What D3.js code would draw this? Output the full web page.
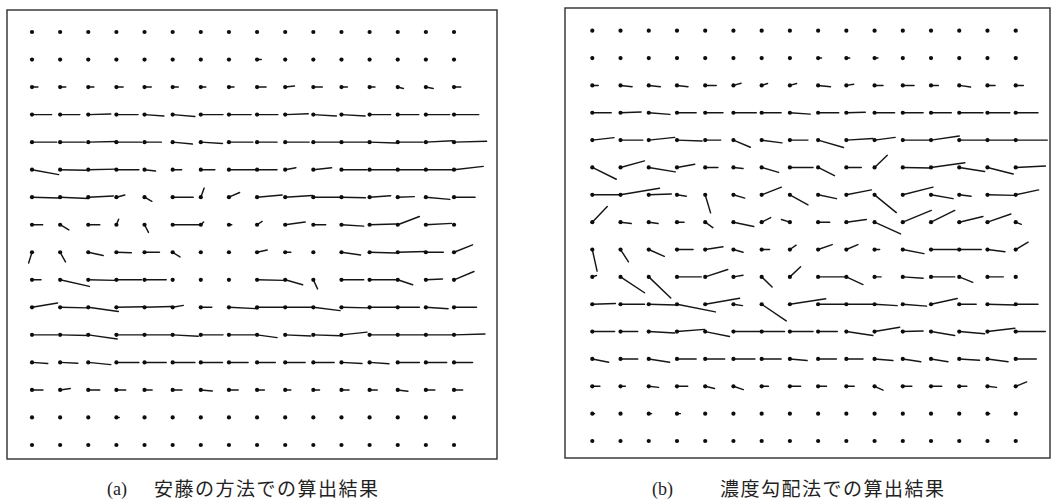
<!DOCTYPE html>
<html>
<head>
<meta charset="utf-8">
<script src="https://cdn.jsdelivr.net/npm/d3@7"></script>
<style>
  body { margin: 0; background: #fff; }
  svg { display: block; }
</style>
</head>
<body>
<div id="chart"></div>
<script>
// grid is 16 x 16, rows listed top to bottom
var cols = d3.range(16),
    rows = d3.range(16);

var captionA = "(a)",
    titleA = "安藤の方法での算出結果",
    captionB = "(b)",
    titleB = "濃度勾配法での算出結果";

// (a) horizontal / vertical displacement, in grid spacings
var uA = [
  [0,0,0,0,0,0,0,0,0,0,0,0,0,0,0,0],
  [0,0,0,0,0,0,0,0,0.15,0,0,0,0,0,0,0],
  [0.21,0.2,0.2,0.24,0.24,0.2,0.18,0.18,0.32,0.33,0.32,0.21,0.19,0.2,0.26,0.24],
  [0.7,0.7,0.8,0.77,0.69,0.79,0.79,0.79,0.74,0.82,0.82,0.84,0.75,0.75,0.85,0.88],
  [0.88,0.89,1.0,0.89,0.6,0.7,0.77,0.85,0.71,0.85,1.0,1.0,0.92,0.9,0.95,1.16],
  [0.95,0.92,1.0,0.8,0.39,0.32,0.5,1.0,0.71,0.38,0.65,0.91,0.92,0.95,0.97,1.04],
  [0.95,1.0,0.89,0.3,0.26,0.73,0.12,0.38,0.89,0.97,0.98,0.85,0.75,0.59,0.85,0.75],
  [0.38,0.31,0.41,0.08,0.14,1.0,0.1,0.1,0.18,0.71,0.44,0.79,0.92,0.77,0.91,0.05],
  [-0.12,0.19,0.53,0.53,0.53,0.26,0,0,0.36,0.2,0,0.68,0.92,1.0,0.62,0.66],
  [0.32,1.04,0.95,0.89,0.77,0,0,0,0.95,0.62,0.15,0.79,0.92,0.53,0.59,0.71],
  [0.91,0.98,1.07,1.0,0.95,0.38,0.39,1.03,1.0,1.0,0.95,0.97,0.98,0.77,0.79,0.8],
  [0.91,1.0,1.03,1.0,1.0,0.91,0.79,0.97,0.71,0.91,0.97,0.91,0.98,1.0,0.97,1.1],
  [0.56,0.63,0.8,0.8,0.77,0.79,0.77,0.68,0.65,0.71,0.74,0.73,0.69,0.77,0.74,0.66],
  [0.39,0.36,0.41,0.33,0.27,0.33,0.41,0.33,0.26,0.2,0.22,0.27,0.27,0.36,0.32,0.31],
  [0,0,0,0.1,0,0,0,0,0,0,0,0,0,0,0,0],
  [0,0,0,0,0,0,0,0,0,0,0,0,0,0,0,0]
];
var vA = [
  [0,0,0,0,0,0,0,0,0,0,0,0,0,0,0,0],
  [0,0,0,0,0,0,0,0,0,0,0,0,0,0,0,0],
  [0,0,0,0,0,0,0,0,0,-0.04,0,0,0,0.05,0.05,0],
  [0,0,-0.02,0,0.05,0.07,0,0,0,-0.03,0.05,0.05,0,0,0,0],
  [0,0,-0.02,0,0,0.07,0.05,0,0,0,0,0,0.03,0,-0.05,-0.03],
  [0.18,0.02,-0.02,0,0.05,0,0,0,0,-0.07,-0.07,0,0,0,0,-0.12],
  [0.03,0.05,-0.04,-0.08,0.15,0,-0.33,-0.17,-0.08,-0.06,0,0.02,-0.05,-0.02,0.08,0],
  [0,0.19,0,-0.2,0.28,0,-0.1,0,-0.12,-0.1,0,0.05,-0.03,-0.3,-0.05,0],
  [0.39,0.35,0.12,0.02,0,0.17,0,0,-0.08,0,0,0.1,0.03,-0.03,0,-0.27],
  [0,0.24,0.02,0,0,0,0,0,0.02,0.18,0.33,0,0,0.18,-0.03,-0.3],
  [-0.16,0.02,0.15,-0.02,-0.03,-0.07,0,0.05,0,0,0.12,0.02,0,0,0.05,0],
  [0,0.02,0.15,0,0,0.05,0,0,0.1,0.04,0.03,-0.1,0,0,0,-0.03],
  [0.04,0.03,0.08,0,0,0,0,0,0,0,0,0.04,0.05,0,0,0],
  [0,-0.05,0,0,0,0,0.04,0,0,0,0,0,0,0.05,0,0],
  [0,0,0,0,0,0,0,0,0,0,0,0,0,0,0,0],
  [0,0,0,0,0,0,0,0,0,0,0,0,0,0,0,0]
];

// (b)
var uB = [
  [0,0,0,0,0,0,0,0,0,0,0,0,0,0,0,0],
  [0,0,0,0,0,0,0,0,0.12,0.12,0.12,0,0,0,0,0],
  [0.21,0.41,0.41,0.39,0.39,0.27,0.21,0.24,0.44,0.26,0.3,0.4,0.26,0.4,0.27,0.27],
  [0.67,0.73,0.75,0.68,0.63,0.81,0.69,0.72,0.73,0.67,0.71,0.72,0.72,0.84,0.79,0.79],
  [0.77,0.79,0.92,0.89,0.55,0.6,0.72,0.64,0.9,0.94,0.73,0.95,1.0,0.99,1.0,1.12],
  [0.85,0.85,0.94,0.63,0.45,0.34,0.6,0.82,0.58,0.53,0.45,1.0,1.2,0.9,0.91,1.05],
  [1.0,1.38,0.8,0.33,0.19,0.4,0.7,0.64,0.65,0.89,0.77,1.07,0.78,0.42,0.97,0.81],
  [0.53,0.38,0.33,0.25,0.27,0.72,0.32,-0.3,0.41,0.71,0.92,1.01,0.84,0.84,0.83,0.2],
  [0.17,0.28,0.55,0.57,0.63,0.34,0.28,0.22,0.5,0.41,0.18,0.75,1.0,0.78,0.62,0.44],
  [0.15,0.85,0.78,0.86,0.8,0.34,0.37,0.38,1.04,0.59,0.23,0.72,0.84,0.48,0.56,0],
  [0.82,0.85,0.94,1.36,1.22,0.32,0.87,1.27,1.04,0.95,0.8,0.84,0.93,0.6,0.97,0.79],
  [0.79,0.61,0.92,0.98,0.86,0.93,0.81,0.82,0.68,0.94,0.89,0.72,0.84,0.9,0.97,1.05],
  [0.58,0.61,0.74,0.68,0.69,0.76,0.69,0.61,0.65,0.59,0.65,0.64,0.6,0.72,0.73,0.73],
  [0.27,0.17,0.35,0.38,0.33,0.35,0.24,0.38,0.3,0.28,0.3,0.32,0.38,0.27,0.32,0.39],
  [0.08,0,0.1,0.12,0,0,0,0,0,0,0,0,0,0,0.08,0],
  [0,0,0,0,0,0,0,0,0,0,0,0,0,0,0,0]
];
var vB = [
  [0,0,0,0,0,0,0,0,0,0,0,0,0,0,0,0],
  [0,0,0,0,0,0,0,0,0,0,0,0,0,0,0,0],
  [0,0.05,0.05,0.05,0,-0.08,-0.07,-0.07,0.05,-0.04,0,0,0,0.06,0,0],
  [0,-0.03,0.06,0,0,0,0,0.05,0,-0.02,0,0,0,0,0,0],
  [-0.09,0,-0.1,0.03,0,0.26,0.1,0,0.27,-0.06,-0.1,0,-0.15,0,0,0],
  [0.43,-0.24,0.16,-0.12,0,0.04,0.18,0,0.3,0,-0.45,0.02,-0.17,0.15,0.24,-0.05],
  [0,-0.24,-0.03,0.05,0.66,0.12,-0.28,0.37,0.14,-0.18,0.65,-0.28,0.14,0.05,0.02,-0.18],
  [-0.57,0.05,0.05,0,0.2,0.16,-0.17,-0.1,0,-0.1,0.43,-0.43,-0.43,-0.21,-0.3,0.08],
  [0.79,0.45,0.25,0,-0.1,0.1,0,-0.16,-0.18,-0.18,0,0.15,0,0,0.08,-0.27],
  [-0.05,0.58,0.77,0,-0.27,-0.06,0.37,-0.37,0,0.28,0,0.05,0,0.2,0,0],
  [-0.03,0,0.03,0.28,-0.22,0.05,0.61,-0.2,0,0,0.05,0.07,-0.21,0,0.03,0],
  [0,0,0.05,-0.08,0.18,0,0,0,0,0.14,-0.16,-0.02,0.14,0.08,-0.12,0],
  [0.12,0,0.12,0,0,0,0,0.06,0,0,0.06,0.1,0.1,0.05,0.1,0],
  [0,0,0.04,0,0.08,0.12,0,0,0,0,0.14,0,0,0,0.04,-0.16],
  [0,0,0,0,0,0,0,0,0,0,0,0,0,0,0,0],
  [0,0,0,0,0,0,0,0,0,0,0,0,0,0,0,0]
];

var width = 1053, height = 502;

var svg = d3.select("#chart").append("svg")
    .attr("width", width)
    .attr("height", height);

function draw_field(frame, xr, yr, U, V, cap, title, capX, titleX) {
    // frame = [left, top, right, bottom]; xr, yr = pixel range of grid col/row 0..15
    var X = d3.scaleLinear().domain([0, 15]).range(xr),
        Y = d3.scaleLinear().domain([0, 15]).range(yr);
    var g = svg.append("g");

    g.append("rect")
        .attr("x", frame[0])
        .attr("y", frame[1])
        .attr("width", frame[2] - frame[0])
        .attr("height", frame[3] - frame[1])
        .style("fill", "none")
        .style("stroke", "#2e2e2e")
        .style("stroke-width", 1.4);

    var pts = [];
    rows.forEach(function(j) {
        cols.forEach(function(i) {
            pts.push({i: i, j: j, u: U[j][i], v: V[j][i]});
        });
    });

    g.selectAll("line.vec")
        .data(pts.filter(function(d) { return d.u !== 0 || d.v !== 0; }))
        .enter().append("line")
        .attr("class", "vec")
        .attr("x1", function(d) { return X(d.i); })
        .attr("y1", function(d) { return Y(d.j); })
        .attr("x2", function(d) { return X(d.i + d.u); })
        .attr("y2", function(d) { return Y(d.j + d.v); })
        .style("stroke", "#161616")
        .style("stroke-width", 1.45)
        .style("stroke-linecap", "round");

    g.selectAll("circle.pt")
        .data(pts)
        .enter().append("circle")
        .attr("class", "pt")
        .attr("cx", function(d) { return X(d.i); })
        .attr("cy", function(d) { return Y(d.j); })
        .attr("r", 2.1)
        .style("fill", "#0c0c0c");

    g.append("text")
        .attr("x", capX)
        .attr("y", 495)
        .style("font-family", "'Liberation Serif', serif")
        .style("font-size", "18px")
        .style("fill", "#222")
        .text(cap);

    g.append("text")
        .attr("x", titleX)
        .attr("y", 496)
        .style("font-family", "'Noto Sans CJK JP', sans-serif")
        .style("font-size", "19px")
        .style("letter-spacing", "1.5px")
        .style("fill", "#222")
        .text(title);
}

draw_field([7, 10, 497, 459], [32, 454], [32, 445], uA, vA, captionA, titleA, 107, 154);
draw_field([565, 8, 1050, 458], [592.3, 1015.7], [30.7, 441], uB, vB, captionB, titleB, 652, 720);
</script>
</body>
</html>
